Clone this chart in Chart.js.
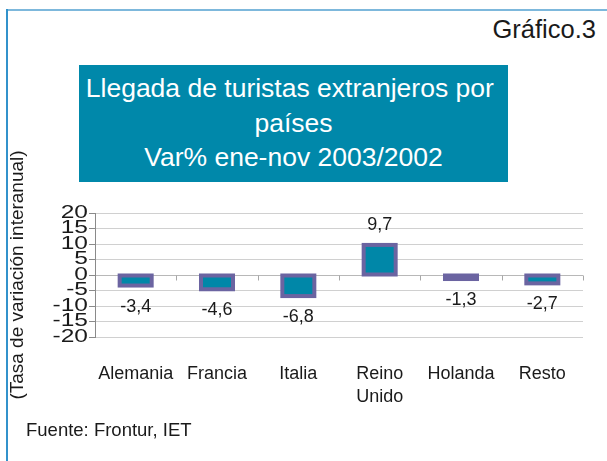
<!DOCTYPE html>
<html>
<head>
<meta charset="utf-8">
<script src="https://cdn.jsdelivr.net/npm/chart.js@4"></script>
<style>
  body { margin: 0; background: #fff; font-family: "Liberation Sans", Arial, sans-serif; color: #1a1a1a; }
  #wrap { position: relative; width: 607px; height: 461px; overflow: hidden; }
  #grafica { position: absolute; left: 0; top: 0; }
  .marcoArriba { position: absolute; left: 6px; top: 9px; width: 601px; height: 2px; background: #7db8dc; }
  .marcoIzq { position: absolute; left: 6px; top: 9px; width: 2px; height: 452px; background: #3292cb; }
  #numero { position: absolute; right: 11px; top: 17px; font-size: 25.5px; line-height: 25px; }
  #titulo {
    position: absolute; left: 79px; top: 65px; width: 429px; height: 117px;
    box-sizing: border-box; padding-top: 6px;
    background: #0088aa; color: #fff; text-align: center;
    font-size: 26.5px; line-height: 34.5px;
  }
  #fuente { position: absolute; left: 26px; top: 420px; font-size: 18.5px; line-height: 20px; }
</style>
</head>
<body>
<div id="wrap">
  <div class="marcoArriba"></div>
  <div class="marcoIzq"></div>
  <div id="numero">Gráfico.3</div>
  <div id="titulo">Llegada de turistas extranjeros por&nbsp;<br>países<br>Var% ene-nov 2003/2002</div>
  <canvas id="grafica" width="607" height="461"></canvas>
  <div id="fuente">Fuente: Frontur, IET</div>
</div>
<script>
const categorias = ["Alemania", "Francia", "Italia", ["Reino", "Unido"], "Holanda", "Resto"];
const variacion = [-3.4, -4.6, -6.8, 9.7, -1.3, -2.7];
const ticksY = [20, 15, 10, 5, 0, -5, -10, -15, -20];

const fuente = '"Liberation Sans", Arial, sans-serif';
Chart.defaults.font.family = fuente;
Chart.defaults.color = '#1a1a1a';

// borde de las barras centrado en el contorno, como en la grafica original
const bordeBarras = {
  id: 'bordeBarras',
  afterDatasetsDraw(chart) {
    const ctx = chart.ctx;
    ctx.save();
    ctx.strokeStyle = '#6b64a1';
    ctx.lineWidth = 4;
    chart.getDatasetMeta(0).data.forEach(barra => {
      const { x, y, base, width } = barra.getProps(['x', 'y', 'base', 'width'], true);
      ctx.strokeRect(x - width / 2, Math.min(y, base), width, Math.abs(base - y));
    });
    ctx.restore();
  }
};

// etiquetas con el valor de cada barra (coma decimal)
const etiquetasValor = {
  id: 'etiquetasValor',
  afterDatasetsDraw(chart) {
    const ctx = chart.ctx;
    const meta = chart.getDatasetMeta(0);
    ctx.save();
    ctx.font = '18px ' + fuente;
    ctx.fillStyle = '#1a1a1a';
    ctx.textAlign = 'center';
    ctx.textBaseline = 'middle';
    meta.data.forEach((barra, i) => {
      const v = variacion[i];
      const y = barra.y + (v < 0 ? 21 : -20);
      ctx.fillText(v.toFixed(1).replace('.', ','), barra.x, y);
    });
    ctx.restore();
  }
};

// marcas de categoria sobre la linea del cero
const marcasCero = {
  id: 'marcasCero',
  beforeDatasetsDraw(chart) {
    const ctx = chart.ctx;
    const ejeX = chart.scales.x;
    const y0 = Math.round(chart.scales.y.getPixelForValue(0)) + 0.5;
    ctx.save();
    ctx.strokeStyle = '#a8a8a8';
    ctx.lineWidth = 1;
    ctx.beginPath();
    for (let i = 1; i <= categorias.length; i++) {
      const px = Math.round(ejeX.getPixelForValue(i - 0.5)) + 0.5;
      ctx.moveTo(px, y0);
      ctx.lineTo(px, y0 + 5);
    }
    ctx.stroke();
    ctx.restore();
  }
};

// numeros del eje Y, mas anchos que altos como en el original
const numerosY = {
  id: 'numerosY',
  afterDraw(chart) {
    const ctx = chart.ctx;
    const ejeY = chart.scales.y;
    const xDer = ejeY.right - 7;
    ctx.save();
    ctx.font = '17.5px ' + fuente;
    ctx.fillStyle = '#1a1a1a';
    ctx.textAlign = 'right';
    ctx.textBaseline = 'middle';
    ticksY.forEach(v => {
      ctx.save();
      ctx.translate(xDer, ejeY.getPixelForValue(v));
      ctx.scale(1.4, 1);
      ctx.fillText(String(v), 0, 0);
      ctx.restore();
    });
    ctx.restore();
  }
};

new Chart(document.getElementById('grafica'), {
  type: 'bar',
  data: {
    labels: categorias,
    datasets: [{
      data: variacion,
      backgroundColor: '#0087a8',
      borderWidth: 0,
      barPercentage: 0.3935,
      categoryPercentage: 1
    }]
  },
  options: {
    responsive: false,
    animation: false,
    devicePixelRatio: 1,
    layout: { padding: { top: 213, right: 24, bottom: 0, left: 0 } },
    plugins: {
      legend: { display: false },
      tooltip: { enabled: false }
    },
    scales: {
      x: {
        grid: { display: false },
        border: { display: false },
        ticks: {
          font: { size: 18, lineHeight: 1.3 },
          padding: 17,
          maxRotation: 0,
          autoSkip: false
        },
        afterFit(scale) { scale.height = 124; }
      },
      y: {
        min: -20,
        max: 20,
        afterBuildTicks(scale) { scale.ticks = ticksY.map(v => ({ value: v })); },
        grid: {
          color: c => c.tick && c.tick.value === 0 ? '#b8b8b8' : '#d0d0d0',
          tickColor: '#8a8a8a',
          tickLength: 6
        },
        border: { display: true, color: '#8a8a8a', width: 1 },
        ticks: { display: false, autoSkip: false },
        title: {
          display: true,
          text: '(Tasa de variación interanual)',
          font: { size: 19 },
          padding: { top: 6, bottom: 0 }
        },
        afterFit(scale) { scale.width = 95; }
      }
    }
  },
  plugins: [marcasCero, bordeBarras, etiquetasValor, numerosY]
});
</script>
</body>
</html>
